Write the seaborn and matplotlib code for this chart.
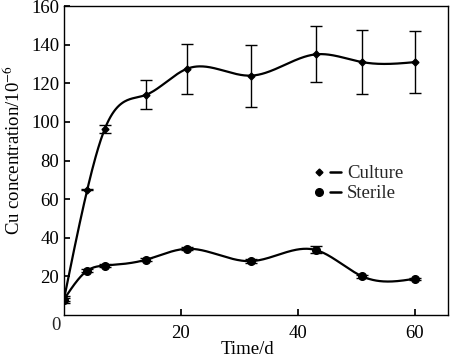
import numpy as np
import pandas as pd
import matplotlib
matplotlib.use("Agg")
import matplotlib.pyplot as plt
from matplotlib.lines import Line2D
from matplotlib.legend_handler import HandlerTuple
import seaborn as sns

days = [0, 4, 7, 14, 21, 32, 43, 51, 60]
culture = [8, 65, 96.5, 114, 127.5, 124, 135, 131, 131]
culture_err = [1, 0.5, 2, 7.5, 13, 16, 14.5, 16.5, 16]
sterile = [8, 23, 25.6, 28.6, 34.3, 27.9, 33.7, 20, 18.8]
sterile_err = [2, 0.8, 0.8, 0.8, 0.8, 1, 1.8, 0.8, 0.5]


def natural_spline(x, y, n=400):
    # natural cubic spline through the points, for the smooth connecting line
    x = np.asarray(x, float)
    y = np.asarray(y, float)
    h = np.diff(x)
    k = len(x)
    A = np.zeros((k, k))
    b = np.zeros(k)
    A[0, 0] = A[-1, -1] = 1
    for i in range(1, k - 1):
        A[i, i - 1] = h[i - 1]
        A[i, i] = 2 * (h[i - 1] + h[i])
        A[i, i + 1] = h[i]
        b[i] = 6 * ((y[i + 1] - y[i]) / h[i] - (y[i] - y[i - 1]) / h[i - 1])
    m = np.linalg.solve(A, b)
    xs = np.linspace(x[0], x[-1], n)
    idx = np.clip(np.searchsorted(x, xs) - 1, 0, k - 2)
    x0, x1 = x[idx], x[idx + 1]
    hh = x1 - x0
    t0, t1 = x1 - xs, xs - x0
    ys = (m[idx] * t0 ** 3 + m[idx + 1] * t1 ** 3) / (6 * hh) \
        + (y[idx] / hh - m[idx] * hh / 6) * t0 \
        + (y[idx + 1] / hh - m[idx + 1] * hh / 6) * t1
    return xs, ys


sns.set_theme(style="ticks")
plt.rcParams["font.family"] = ["Liberation Serif", "DejaVu Serif"]
plt.rcParams["mathtext.fontset"] = "stix"

fs = 13.5
fig = plt.figure(figsize=(4.5, 3.6), dpi=100)
ax = fig.add_axes([0.142, 0.125, 0.853, 0.858])

handles, labels = [], []
for vals, errs, mk, ms, name in [
    (culture, culture_err, "D", 3.5, "Culture"),
    (sterile, sterile_err, "o", 5.5, "Sterile"),
]:
    xs, ys = natural_spline(days, vals)
    sns.lineplot(x=xs, y=ys, ax=ax, color="black", lw=1.6, sort=False)
    ax.errorbar(days, vals, yerr=errs, fmt="none", ecolor="black",
                elinewidth=1, capsize=4, capthick=1)
    ax.plot(days, vals, linestyle="none", marker=mk, ms=ms, color="black")
    handles.append((Line2D([], [], ls="none", marker=mk, ms=ms, color="black"),
                    Line2D([], [], ls="-", lw=1.8, color="black")))
    labels.append(name)

ax.set_xlim(0, 65.6)
ax.set_ylim(0, 160)
ax.set_xticks([20, 40, 60])
ax.set_yticks(range(20, 161, 20))
ax.text(-0.008, -0.008, "0", transform=ax.transAxes, ha="right", va="top",
        fontsize=fs)
ax.tick_params(direction="in", length=4, labelsize=fs, color="black",
               labelcolor="black")
ax.tick_params(axis="x", pad=7)
for s in ax.spines.values():
    s.set_color("black")
    s.set_linewidth(1)

ax.set_xlabel("Time/d", fontsize=fs, color="black")
ax.set_ylabel(r"Cu concentration/10$^{-6}$", fontsize=fs, color="black")
ax.xaxis.set_label_coords(0.478, -0.085)
ax.yaxis.set_label_coords(-0.105, 0.535)

ax.legend(handles, labels, handler_map={tuple: HandlerTuple(ndivide=None, pad=0.3)},
          loc="upper left", bbox_to_anchor=(0.625, 0.515), frameon=False,
          fontsize=fs, handlelength=1.5, handletextpad=0.3,
          labelspacing=0.15, borderpad=0)

fig.savefig("out.png", dpi=100)
plt.close(fig)
